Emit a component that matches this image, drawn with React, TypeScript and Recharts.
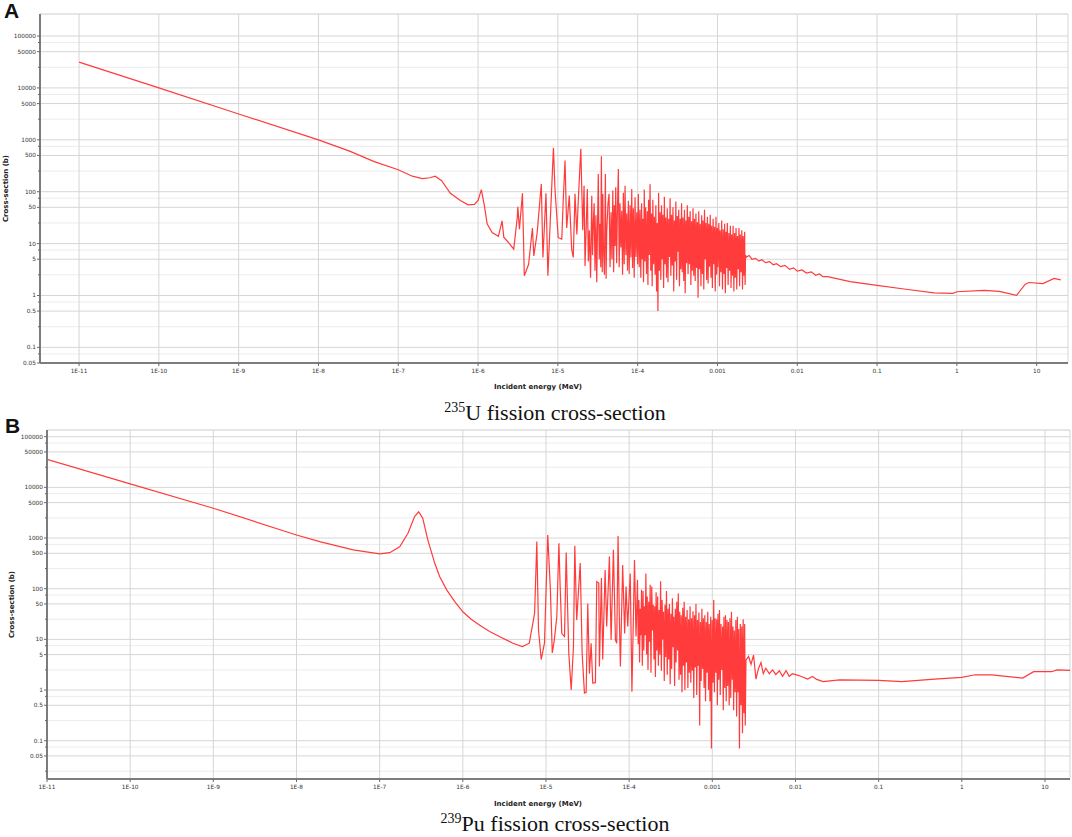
import { LineChart, Line, XAxis, YAxis, CartesianGrid } from 'recharts';

type Pt = [number, number];

// energy (MeV), fission cross-section (b)

const U235_THERMAL: Pt[] = [
  [1e-11, 31400], [1e-10, 10000], [1e-9, 3150], [1e-8, 1000], [2.5e-8, 600], [5e-8, 380],
  [1e-7, 265], [1.5e-7, 199], [2e-7, 179], [2.5e-7, 186], [2.9e-7, 199], [3.5e-7, 163],
  [4.5e-7, 93], [6e-7, 68], [7.5e-7, 56], [9e-7, 57], [1e-6, 68], [1.1e-6, 110], [1.2e-6, 54],
  [1.3e-6, 24], [1.5e-6, 16.4], [1.8e-6, 13.8],
];

const U235_RESOLVED: Pt[] = [
  [2.0e-6, 27.5], [2.1e-6, 13.3], [2.5e-6, 9.8], [2.8e-6, 7.8], [3.1e-6, 32], [3.15e-6, 51],
  [3.3e-6, 19], [3.6e-6, 93], [3.8e-6, 2.4], [4.3e-6, 4.0], [4.8e-6, 20], [5.0e-6, 5.8],
  [5.5e-6, 16], [6.2e-6, 141], [6.5e-6, 5.4], [7.1e-6, 93], [7.5e-6, 2.4], [8.8e-6, 700],
  [9.2e-6, 113], [1.01e-5, 13], [1.12e-5, 12.2], [1.17e-5, 74], [1.23e-5, 400], [1.29e-5, 20],
  [1.39e-5, 84], [1.49e-5, 7.8], [1.56e-5, 5.4], [1.64e-5, 91], [1.73e-5, 15], [1.81e-5, 78],
  [1.94e-5, 670], [2.05e-5, 18], [2.13e-5, 130], [2.19e-5, 3.7], [2.34e-5, 113], [2.41e-5, 4.5],
  [2.48e-5, 18], [2.57e-5, 2.2], [2.66e-5, 84], [2.72e-5, 6], [2.79e-5, 27], [2.85e-5, 60],
  [2.92e-5, 3.0], [3.0e-5, 35], [3.07e-5, 1.8], [3.21e-5, 220], [3.3e-5, 5], [3.38e-5, 24],
  [3.45e-5, 3.5], [3.51e-5, 480], [3.6e-5, 2.8], [3.66e-5, 90], [3.72e-5, 9.8], [3.83e-5, 2.5],
  [3.94e-5, 220], [4.02e-5, 2.1], [4.1e-5, 18], [4.25e-5, 60], [4.38e-5, 91],
  [4.51e-5, 3.5], [4.64e-5, 40], [4.76e-5, 5.0], [4.88e-5, 105], [5.0e-5, 2.8], [5.1e-5, 55],
  [5.21e-5, 9], [5.31e-5, 122], [5.45e-5, 4.2], [5.58e-5, 48], [5.73e-5, 275], [5.87e-5, 3.5],
  [6.01e-5, 60], [6.16e-5, 8.4], [6.32e-5, 43], [6.47e-5, 2.5], [6.62e-5, 95], [6.78e-5, 4.0],
  [6.95e-5, 130], [7.12e-5, 6], [7.3e-5, 38], [7.47e-5, 3.0], [7.64e-5, 67], [7.83e-5, 2.6],
  [8.03e-5, 55], [8.23e-5, 5.4], [8.43e-5, 113], [8.63e-5, 3.4], [8.83e-5, 48], [9.05e-5, 2.2],
  [9.27e-5, 78], [9.5e-5, 5.5], [9.75e-5, 40], [9.98e-5, 4.0],
];

const U235_DENSE: Pt[] = [
  [1.02e-4, 90], [1.045e-4, 3.5], [1.07e-4, 45], [1.095e-4, 2.2], [1.12e-4, 60], [1.14e-4, 5],
  [1.16e-4, 30], [1.185e-4, 1.8], [1.21e-4, 110], [1.235e-4, 4.5], [1.26e-4, 50], [1.29e-4, 2.6],
  [1.32e-4, 42], [1.345e-4, 1.6], [1.37e-4, 70], [1.4e-4, 6], [1.43e-4, 140], [1.46e-4, 3],
  [1.49e-4, 38], [1.52e-4, 1.5], [1.55e-4, 70], [1.585e-4, 4], [1.62e-4, 33], [1.655e-4, 2.5],
  [1.69e-4, 55], [1.725e-4, 1.2], [1.76e-4, 25], [1.795e-4, 0.5], [1.83e-4, 95], [1.87e-4, 3],
  [1.91e-4, 40], [1.95e-4, 2], [1.99e-4, 55], [2.03e-4, 5], [2.07e-4, 36], [2.115e-4, 1.4],
  [2.16e-4, 80], [2.205e-4, 4], [2.25e-4, 32], [2.3e-4, 2.2], [2.35e-4, 48], [2.4e-4, 1.8],
  [2.45e-4, 30], [2.5e-4, 5.5], [2.55e-4, 75], [2.605e-4, 2.4], [2.66e-4, 36], [2.715e-4, 3.8],
  [2.77e-4, 50], [2.83e-4, 1.2], [2.89e-4, 28], [2.95e-4, 4.5], [3.01e-4, 65], [3.075e-4, 2],
  [3.14e-4, 34], [3.205e-4, 7], [3.27e-4, 45], [3.34e-4, 1.5], [3.41e-4, 30], [3.48e-4, 3.2],
  [3.55e-4, 60], [3.625e-4, 2.8], [3.7e-4, 32], [3.78e-4, 1.9], [3.86e-4, 45], [3.94e-4, 1.1],
  [4.02e-4, 28], [4.105e-4, 4.2], [4.19e-4, 55], [4.28e-4, 2.6], [4.37e-4, 33], [4.46e-4, 4],
  [4.55e-4, 42], [4.645e-4, 1.6], [4.74e-4, 27], [4.84e-4, 3], [4.94e-4, 48], [5.045e-4, 2.4],
  [5.15e-4, 30], [5.26e-4, 1.9], [5.37e-4, 38], [5.485e-4, 3.4], [5.6e-4, 26], [5.715e-4, 0.9],
  [5.83e-4, 42], [5.955e-4, 3.2], [6.08e-4, 24], [6.21e-4, 1.5], [6.34e-4, 35], [6.47e-4, 2.6],
  [6.6e-4, 28], [6.74e-4, 1.3], [6.88e-4, 45], [7.025e-4, 5], [7.17e-4, 25], [7.325e-4, 2],
  [7.48e-4, 33], [7.635e-4, 1.7], [7.79e-4, 24], [7.955e-4, 3.6], [8.12e-4, 36], [8.29e-4, 2.2],
  [8.46e-4, 22], [8.64e-4, 1.4], [8.82e-4, 30], [9.005e-4, 4], [9.19e-4, 21], [9.385e-4, 1.2],
  [9.58e-4, 33], [9.78e-4, 2.5], [9.98e-4, 20], [1.01e-3, 3.5], [1.04e-3, 25], [1.06e-3, 1.5],
  [1.08e-3, 18], [1.105e-3, 2.8], [1.13e-3, 28], [1.155e-3, 1.3], [1.18e-3, 19], [1.205e-3, 2.6],
  [1.23e-3, 24], [1.255e-3, 1.1], [1.28e-3, 17], [1.305e-3, 3.4], [1.33e-3, 25], [1.36e-3, 1.6],
  [1.39e-3, 16], [1.42e-3, 3], [1.45e-3, 22], [1.48e-3, 1.4], [1.51e-3, 15], [1.54e-3, 2.4],
  [1.57e-3, 22], [1.605e-3, 1.2], [1.64e-3, 16], [1.675e-3, 2.2], [1.71e-3, 20], [1.745e-3, 1.3],
  [1.78e-3, 14], [1.82e-3, 3.2], [1.86e-3, 20], [1.895e-3, 1.5], [1.93e-3, 15], [1.975e-3, 2.8],
  [2.02e-3, 18], [2.06e-3, 1.3], [2.1e-3, 14], [2.145e-3, 2.4], [2.19e-3, 17], [2.22e-3, 1.6],
  [2.25e-3, 6],
];

const U235_FAST: Pt[] = [
  [2.3e-3, 5.5], [2.5e-3, 5.9], [2.7e-3, 5.0], [3.0e-3, 5.2], [3.3e-3, 4.6], [3.6e-3, 4.9],
  [4.0e-3, 4.3], [4.5e-3, 4.5], [5.0e-3, 3.9], [5.5e-3, 4.1], [6.2e-3, 3.6], [7.0e-3, 3.8],
  [8.0e-3, 3.2], [9.0e-3, 3.4], [1.0e-2, 2.95], [1.15e-2, 3.1], [1.3e-2, 2.7], [1.5e-2, 2.85],
  [1.7e-2, 2.45], [1.9e-2, 2.6], [2.1e-2, 2.3], [2.4e-2, 2.3], [4.6e-2, 1.85], [0.1, 1.57],
  [0.23, 1.32], [0.52, 1.12], [0.89, 1.1], [1.0, 1.18], [2.2, 1.26], [3.4, 1.2], [5.6, 1.01],
  [7.2, 1.65], [8.0, 1.78], [12, 1.7], [16.5, 2.14], [20, 2.0],
];

const PU239_THERMAL: Pt[] = [
  [1e-11, 35800], [1e-10, 11700], [1e-9, 3870], [1e-8, 1150], [1.9e-8, 850], [4.8e-8, 582],
  [1e-7, 486], [1.32e-7, 514], [1.74e-7, 672], [2.19e-7, 1245], [2.63e-7, 2650], [2.95e-7, 3300],
  [3.3e-7, 2450], [3.8e-7, 910], [4.6e-7, 317], [5.26e-7, 174], [6.4e-7, 95], [7.96e-7, 56],
  [1.0e-6, 35], [1.26e-6, 25], [1.6e-6, 19], [2.1e-6, 14.3], [2.75e-6, 11.4], [4.0e-6, 8.4],
  [5.2e-6, 7.2], [6.3e-6, 8.4], [7.3e-6, 33],
];

const PU239_RESOLVED: Pt[] = [
  [7.76e-6, 850], [8.13e-6, 15.5], [8.76e-6, 4.0], [9.59e-6, 8.4], [1.05e-5, 1150], [1.13e-5, 95],
  [1.19e-5, 5.4], [1.26e-5, 9.8], [1.35e-5, 28], [1.43e-5, 790], [1.48e-5, 110], [1.55e-5, 13],
  [1.67e-5, 11.4], [1.75e-5, 520], [1.88e-5, 5.4], [2.01e-5, 1.0], [2.14e-5, 7.2], [2.22e-5, 700],
  [2.34e-5, 24], [2.58e-5, 320], [2.72e-5, 5.4], [2.9e-5, 0.87], [3.04e-5, 0.9], [3.18e-5, 51],
  [3.33e-5, 2.1], [3.49e-5, 8.4], [3.65e-5, 1.37], [3.93e-5, 1.4], [4.08e-5, 138], [4.31e-5, 129],
  [4.39e-5, 2.9], [4.64e-5, 163], [4.81e-5, 4.0], [5.14e-5, 235], [5.37e-5, 18], [5.79e-5, 430],
  [6.07e-5, 9.8], [6.47e-5, 590], [6.84e-5, 9.8], [7.09e-5, 8.4], [7.36e-5, 1100], [7.63e-5, 24],
  [7.85e-5, 2.9], [8.36e-5, 295], [8.83e-5, 13], [9.18e-5, 110], [9.61e-5, 18], [1.03e-4, 200],
  [1.08e-4, 0.93], [1.16e-4, 370], [1.21e-4, 11.4],
];

const PU239_DENSE: Pt[] = [
  [1.26e-4, 150], [1.285e-4, 8], [1.31e-4, 60], [1.335e-4, 3.5], [1.36e-4, 40], [1.385e-4, 12],
  [1.41e-4, 95], [1.44e-4, 3], [1.47e-4, 90], [1.5e-4, 6], [1.53e-4, 45], [1.56e-4, 12],
  [1.59e-4, 200], [1.62e-4, 5], [1.65e-4, 70], [1.685e-4, 2.5], [1.72e-4, 55], [1.755e-4, 9],
  [1.79e-4, 120], [1.83e-4, 2.2], [1.87e-4, 110], [1.91e-4, 15], [1.95e-4, 48], [1.99e-4, 4],
  [2.03e-4, 45], [2.07e-4, 1.8], [2.11e-4, 85], [2.155e-4, 6], [2.2e-4, 70], [2.245e-4, 3],
  [2.29e-4, 38], [2.34e-4, 5], [2.39e-4, 140], [2.44e-4, 2.4], [2.49e-4, 60], [2.54e-4, 10],
  [2.59e-4, 35], [2.645e-4, 1.5], [2.7e-4, 48], [2.75e-4, 4.5], [2.81e-4, 90], [2.87e-4, 2],
  [2.93e-4, 40], [2.99e-4, 4], [3.05e-4, 50], [3.115e-4, 1.3], [3.18e-4, 32], [3.245e-4, 2.6],
  [3.31e-4, 65], [3.38e-4, 7], [3.45e-4, 28], [3.52e-4, 1.2], [3.59e-4, 40], [3.665e-4, 3.5],
  [3.74e-4, 55], [3.82e-4, 6], [3.9e-4, 80], [3.98e-4, 1.6], [4.06e-4, 35], [4.145e-4, 2],
  [4.23e-4, 30], [4.32e-4, 0.9], [4.41e-4, 42], [4.5e-4, 3], [4.59e-4, 55], [4.68e-4, 1.0],
  [4.78e-4, 28], [4.88e-4, 3.5], [4.98e-4, 38], [5.085e-4, 1.1], [5.19e-4, 25], [5.295e-4, 2.2],
  [5.4e-4, 45], [5.515e-4, 1.4], [5.63e-4, 26], [5.745e-4, 2.4], [5.86e-4, 36], [5.985e-4, 0.7],
  [6.11e-4, 30], [6.235e-4, 2.8], [6.36e-4, 50], [6.495e-4, 0.8], [6.63e-4, 24], [6.765e-4, 3],
  [6.9e-4, 34], [7.045e-4, 0.2], [7.19e-4, 22], [7.34e-4, 1.5], [7.49e-4, 40], [7.645e-4, 2.6],
  [7.8e-4, 26], [7.96e-4, 1.1], [8.12e-4, 30], [8.29e-4, 0.6], [8.46e-4, 22], [8.64e-4, 2.2],
  [8.82e-4, 35], [9.0e-4, 1.0], [9.18e-4, 20], [9.37e-4, 0.6], [9.56e-4, 28], [9.76e-4, 0.07],
  [9.96e-4, 24], [1.02e-3, 1.4], [1.04e-3, 60], [1.06e-3, 0.9], [1.08e-3, 26], [1.105e-3, 2.2],
  [1.13e-3, 25], [1.15e-3, 0.5], [1.17e-3, 32], [1.195e-3, 1.6], [1.22e-3, 38], [1.245e-3, 0.8],
  [1.27e-3, 20], [1.3e-3, 2.5], [1.33e-3, 18], [1.355e-3, 0.4], [1.38e-3, 28], [1.41e-3, 1.1],
  [1.44e-3, 30], [1.47e-3, 0.6], [1.5e-3, 24], [1.53e-3, 1.2], [1.56e-3, 22], [1.595e-3, 0.5],
  [1.63e-3, 26], [1.665e-3, 0.7], [1.7e-3, 35], [1.735e-3, 1.6], [1.77e-3, 18], [1.805e-3, 0.4],
  [1.84e-3, 15], [1.88e-3, 0.9], [1.92e-3, 24], [1.96e-3, 0.3], [2.0e-3, 28], [2.04e-3, 0.9],
  [2.08e-3, 16], [2.12e-3, 0.07], [2.17e-3, 20], [2.215e-3, 0.5], [2.26e-3, 18], [2.305e-3, 0.14],
  [2.35e-3, 25], [2.4e-3, 0.35], [2.45e-3, 20], [2.49e-3, 0.2], [2.54e-3, 3.9],
];

const PU239_FAST: Pt[] = [
  [2.73e-3, 4.6], [2.92e-3, 3.2], [3.13e-3, 4.9], [3.35e-3, 1.64], [3.6e-3, 2.7], [3.85e-3, 3.5],
  [4.1e-3, 2.1], [4.4e-3, 2.7], [4.84e-3, 2.1], [5.3e-3, 2.5], [5.8e-3, 2.03], [6.4e-3, 2.4],
  [7.0e-3, 1.87], [7.7e-3, 2.4], [8.4e-3, 1.87], [9.2e-3, 2.1], [1.1e-2, 1.93], [1.4e-2, 1.64],
  [1.6e-2, 1.85], [1.8e-2, 1.62], [2.15e-2, 1.47], [3.4e-2, 1.58], [0.1, 1.55], [0.19, 1.47],
  [0.47, 1.64], [1.0, 1.78], [1.45, 2.0], [2.3, 2.0], [5.4, 1.72], [7.3, 2.3], [12, 2.3],
  [14, 2.5], [20, 2.45],
];

const X_TICKS = [1e-11, 1e-10, 1e-9, 1e-8, 1e-7, 1e-6, 1e-5, 1e-4, 1e-3, 1e-2, 1e-1, 1, 10];
const X_TICK_LABELS = ['1E-11', '1E-10', '1E-9', '1E-8', '1E-7', '1E-6', '1E-5', '1E-4', '0.001', '0.01', '0.1', '1', '10'];
const Y_TICKS = [0.05, 0.1, 0.5, 1, 5, 10, 50, 100, 500, 1000, 5000, 10000, 50000, 100000];
const Y_TICK_LABELS = ['0.05', '0.1', '0.5', '1', '5', '10', '50', '100', '500', '1000', '5000', '10000', '50000', '100000'];
const Y_MINOR_TICKS = [0.025, 0.075, 0.25, 0.75, 2.5, 7.5, 25, 75, 250, 750, 2500, 7500, 25000, 75000];

const toRows = (pts: Pt[]) => pts.map(([e, s]) => ({ e, s }));

const FONT = '"DejaVu Sans", sans-serif';

const LeftTick = (props: any) => {
  const { x, y, payload } = props;
  const i = Y_TICKS.indexOf(payload.value);
  return (
    <g>
      <line x1={x - (i >= 0 ? 3 : 2)} y1={y} x2={x} y2={y} stroke="#6a6a6a" strokeWidth={1} />
      {i >= 0 && (
        <text x={x - 4} y={y + 2} textAnchor="end" fontSize={5.8} fontFamily={FONT} fill="#333">
          {Y_TICK_LABELS[i]}
        </text>
      )}
    </g>
  );
};

const BottomTick = (props: any) => {
  const { x, y, payload } = props;
  const i = X_TICKS.indexOf(payload.value);
  return (
    <g>
      <line x1={x} y1={y} x2={x} y2={y + 3} stroke="#6a6a6a" strokeWidth={1} />
      <text x={x} y={y + 9.5} textAnchor="middle" fontSize={5.8} fontFamily={FONT} fill="#333">
        {X_TICK_LABELS[i]}
      </text>
    </g>
  );
};

interface PanelProps {
  rows: { e: number; s: number }[];
  height: number;
  margin: { top: number; right: number; bottom: number; left: number };
  yAxisWidth: number;
  xDomain: [number, number];
  yDomain: [number, number];
  yLabelX: number;
  xLabelY: number;
}

function Panel({ rows, height, margin, yAxisWidth, xDomain, yDomain, yLabelX, xLabelY }: PanelProps) {
  const inX = (v: number) => v >= xDomain[0] && v <= xDomain[1];
  const inY = (v: number) => v >= yDomain[0] && v <= yDomain[1] * 0.95;
  const xTicks = X_TICKS.filter(inX);
  const yMajor = Y_TICKS.filter(inY);
  const yMinor = Y_MINOR_TICKS.filter(inY);
  const yAll = [...yMajor, ...yMinor].sort((a, b) => a - b);
  const plotMidY = margin.top + (height - margin.top - margin.bottom - 20) / 2;

  return (
    <LineChart width={1072} height={height} data={rows} margin={margin}>
      <YAxis
        yAxisId="l"
        type="number"
        scale="log"
        domain={yDomain}
        allowDataOverflow
        ticks={yAll}
        interval={0}
        width={yAxisWidth}
        tickSize={0}
        tickMargin={0}
        tickLine={false}
        tick={<LeftTick />}
        axisLine={{ stroke: '#7c7c7c', strokeWidth: 2 }}
        label={() => (
          <text
            x={yLabelX}
            y={plotMidY}
            transform={`rotate(-90 ${yLabelX} ${plotMidY})`}
            textAnchor="middle"
            dominantBaseline="central"
            fontSize={7}
            fontWeight="bold"
            fontFamily={FONT}
            fill="#222"
          >
            Cross-section (b)
          </text>
        )}
      />
      {/* hidden axes that only feed the two grid layers */}
      <YAxis yAxisId="gMin" hide orientation="right" mirror width={0} type="number" scale="log" domain={yDomain} allowDataOverflow ticks={yMinor} interval={0} />
      <YAxis yAxisId="gMaj" hide orientation="right" mirror width={0} type="number" scale="log" domain={yDomain} allowDataOverflow ticks={yMajor} interval={0} />
      <CartesianGrid xAxisId="b" yAxisId="gMin" vertical={false} stroke="#ececec" />
      <CartesianGrid xAxisId="b" yAxisId="gMaj" stroke="#d6d6d6" />
      <XAxis
        xAxisId="b"
        dataKey="e"
        type="number"
        scale="log"
        domain={xDomain}
        allowDataOverflow
        ticks={xTicks}
        interval={0}
        height={20}
        tickSize={0}
        tickMargin={0}
        tickLine={false}
        tick={<BottomTick />}
        axisLine={{ stroke: '#7c7c7c', strokeWidth: 2 }}
        label={() => (
          <text x={538} y={xLabelY} textAnchor="middle" fontSize={7} fontWeight="bold" fontFamily={FONT} fill="#222">
            Incident energy (MeV)
          </text>
        )}
      />
      <XAxis
        xAxisId="t"
        orientation="top"
        type="number"
        scale="log"
        domain={xDomain}
        allowDataOverflow
        ticks={xTicks}
        interval={0}
        height={0}
        mirror
        tickSize={2}
        tickFormatter={() => ''}
        tickLine={{ stroke: '#8a8a8a' }}
        axisLine={{ stroke: '#9a9a9a', strokeWidth: 1 }}
      />
      <YAxis
        yAxisId="r"
        orientation="right"
        type="number"
        scale="log"
        domain={yDomain}
        allowDataOverflow
        ticks={yAll}
        interval={0}
        width={0}
        mirror
        tickSize={2}
        tickFormatter={() => ''}
        tickLine={{ stroke: '#8a8a8a' }}
        axisLine={{ stroke: '#9a9a9a', strokeWidth: 1 }}
      />
      <Line
        xAxisId="b"
        yAxisId="l"
        type="linear"
        dataKey="s"
        stroke="#ff3b3b"
        strokeWidth={1.2}
        dot={false}
        activeDot={false}
        isAnimationActive={false}
      />
    </LineChart>
  );
}

const u235Rows = toRows([...U235_THERMAL, ...U235_RESOLVED, ...U235_DENSE, ...U235_FAST]);
const pu239Rows = toRows([...PU239_THERMAL, ...PU239_RESOLVED, ...PU239_DENSE, ...PU239_FAST]);

const letterStyle: React.CSSProperties = {
  position: 'absolute',
  fontFamily: '"Liberation Sans", Arial, sans-serif',
  fontWeight: 'bold',
  fontSize: 21,
  lineHeight: '21px',
  color: '#111',
};

const captionStyle: React.CSSProperties = {
  position: 'absolute',
  left: 555,
  transform: 'translateX(-50%)',
  whiteSpace: 'nowrap',
  fontFamily: '"Liberation Serif", "Times New Roman", serif',
  fontSize: 22,
  lineHeight: '22px',
  color: '#111',
};

const supStyle: React.CSSProperties = { fontSize: 14, position: 'relative', top: -8 };

export default function App() {
  return (
    <div style={{ position: 'absolute', left: 0, top: 0, width: 1072, height: 837, background: '#fff', overflow: 'hidden' }}>
      <div style={{ position: 'absolute', left: 0, top: 0 }}>
        <Panel
          rows={u235Rows}
          height={400}
          margin={{ top: 14, right: 4, bottom: 17, left: 0 }}
          yAxisWidth={40}
          xDomain={[3.24e-12, 24.7]}
          yDomain={[0.05, 266000]}
          yLabelX={6}
          xLabelY={388.5}
        />
      </div>
      <div style={{ position: 'absolute', left: 0, top: 400 }}>
        <Panel
          rows={pu239Rows}
          height={420}
          margin={{ top: 30, right: 2, bottom: 21, left: 0 }}
          yAxisWidth={47}
          xDomain={[1e-11, 20]}
          yDomain={[0.01754, 135600]}
          yLabelX={12}
          xLabelY={405.5}
        />
      </div>
      <div style={{ ...letterStyle, left: 4, top: 0 }}>A</div>
      <div style={{ ...letterStyle, left: 5, top: 415 }}>B</div>
      <div style={{ ...captionStyle, top: 401.5 }}>
        <span style={supStyle}>235</span>U fission cross-section
      </div>
      <div style={{ ...captionStyle, top: 812.5 }}>
        <span style={supStyle}>239</span>Pu fission cross-section
      </div>
    </div>
  );
}
